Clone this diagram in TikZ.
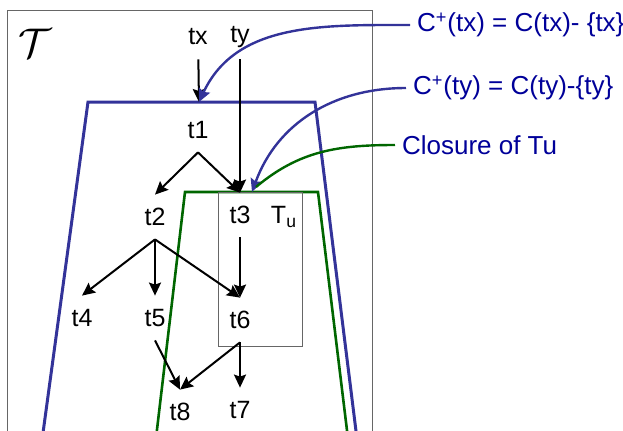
\documentclass[tikz,border=0pt]{standalone}
\usepackage{fontspec}
\setmainfont{Liberation Sans}
\usetikzlibrary{arrows.meta, positioning}
\definecolor{trap}{HTML}{333399}
\definecolor{navy}{HTML}{000099}
\definecolor{clos}{HTML}{006600}

\begin{document}
\begin{tikzpicture}[x=0.5pt, y=-0.5pt,
  tn/.style={font=\fontsize{12.5}{14}\selectfont, minimum height=22pt, inner sep=0pt},
  arr/.style={-{Stealth[length=6.5pt, width=6pt, inset=1pt]}, line width=1pt, black},
  lbl/.style={font=\fontsize{13}{15}\selectfont, color=navy, anchor=west},
  call/.style={-{Stealth[length=6.5pt, width=6pt, inset=1pt]}, line width=1.2pt, color=trap}
]
\clip (0,0) rectangle (623,430);

% frame of T
\draw[gray!80!black, line width=0.5pt] (8,10) rectangle (372,460);
\node at (35,43) {\fontsize{20}{20}\selectfont$\mathcal{T}$};

% the two closures
\draw[trap, line width=1.5pt] (40,455) -- (88,102) -- (315,102) -- (359,455);
\draw[clos, line width=1.3pt] (154,455) -- (185,192) -- (318,192) -- (350,455);
\draw[gray!80!black, line width=0.5pt] (218,192) rectangle (302,346);

\coordinate (bx) at (199,102);
\coordinate (gy) at (252,192);
\coordinate (gc) at (256,187);

% transactions
\node[tn] (tx) at (198,37) {tx};
\node[tn] (ty) at (240,37) {ty};
\node[tn] (t1) at (198,130) {t1};
\node[tn] (t2) at (155,217) {t2};
\node[tn] (t3) at (240,215) {t3};
\node[tn] (tu) at (284,217) {T\textsubscript{u}};
\node[tn] (t4) at (82,318) {t4};
\node[tn] (t5) at (155,318) {t5};
\node[tn] (t6) at (240,320) {t6};
\node[tn] (t8) at (180,412) {t8};
\node[tn] (t7) at (240,410) {t7};

\draw[arr] (tx) -- (bx);
\draw[arr] (ty) -- (t3);
\draw[arr] (t1.south) -- (t2.north);
\draw[arr] (t1.south) -- (t3.north);
\draw[arr] (t2.south) -- (t4.north);
\draw[arr] (t2.south) -- (t5.north);
\draw[arr] (t2.south) -- (t6.north);
\draw[arr] (t3) -- (t6);
\draw[arr] (t5.south) -- (t8.north);
\draw[arr] (t6.south) -- (t8.north);
\draw[arr] (t6.south) -- (t7.north);

% callouts
\node[lbl] (cx) at (410,25) {C\textsuperscript{+}(tx) = C(tx)- \{tx\}};
\node[lbl] (cy) at (406,88) {C\textsuperscript{+}(ty) = C(ty)-\{ty\}};
\node[lbl] (cl) at (395,145) {Closure of Tu};

\draw[call] (cx.west) to[out=180, in=65] (bx);
\draw[call] (cy.west) to[out=180, in=70] (gy);
\draw[clos, line width=1.2pt] (cl.west) to[out=180, in=40] (gc);
\end{tikzpicture}
\end{document}
